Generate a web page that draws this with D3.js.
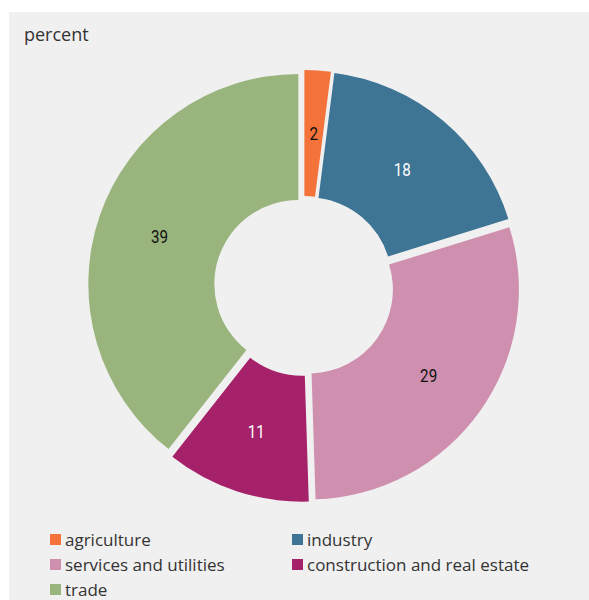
<!DOCTYPE html>
<html>
<head>
<meta charset="utf-8">
<script src="https://cdn.jsdelivr.net/npm/d3@7"></script>
<style>
  html, body { margin: 0; padding: 0; background: #ffffff; }
  svg { display: block; }
</style>
</head>
<body>
<svg id="chart" width="589" height="600"></svg>
<script>
// Sector shares, percent
const categories = ["agriculture", "industry", "services and utilities", "construction and real estate", "trade"];
const values = [2, 18, 29, 11, 39];
const colors = ["#f4733a", "#3e7494", "#cf8faf", "#a5216a", "#99b47d"];
const labelColors = ["#111111", "#ffffff", "#111111", "#ffffff", "#111111"];
const unitLabel = "percent";

const W = 589, H = 600;
const cx = 304, cy = 286;
const outerR = 210, innerR = 84;
const explode = 6;

const svg = d3.select("#chart");

// panel background
svg.append("rect")
  .attr("x", 9).attr("y", 12)
  .attr("width", W - 9).attr("height", H - 12)
  .attr("fill", "#f0f0f0");

svg.append("text")
  .attr("x", 24).attr("y", 41)
  .attr("font-family", "'Open Sans', sans-serif")
  .attr("font-size", 18)
  .attr("fill", "#333333")
  .text(unitLabel);

const data = categories.map((c, i) => ({ name: c, value: values[i], color: colors[i], labelColor: labelColors[i] }));

const pie = d3.pie().value(d => d.value).sort(null);
const arc = d3.arc().innerRadius(innerR).outerRadius(outerR);
const arcs = pie(data);

const g = svg.append("g").attr("transform", `translate(${cx},${cy})`);

// each slice pulled slightly outward along its mid-angle
const offset = d => {
  const a = (d.startAngle + d.endAngle) / 2;
  return [Math.sin(a) * explode, -Math.cos(a) * explode];
};

const slice = g.selectAll("g.slice")
  .data(arcs)
  .join("g")
  .attr("class", "slice")
  .attr("transform", d => `translate(${offset(d)})`);

slice.append("path")
  .attr("d", arc)
  .attr("fill", d => d.data.color);

// value labels in a narrow face
slice.append("text")
  .attr("transform", d => `translate(${arc.centroid(d)}) scale(0.8,1)`)
  .attr("text-anchor", "middle")
  .attr("dy", "0.36em")
  .attr("font-family", "Roboto, sans-serif")
  .attr("font-size", 19)
  .attr("fill", d => d.data.labelColor)
  .text(d => d3.format("d")(d.data.value));

// legend, two columns
const legend = svg.append("g");
const item = legend.selectAll("g")
  .data(data)
  .join("g")
  .attr("transform", (d, i) => `translate(${i % 2 === 0 ? 50 : 292},${534 + Math.floor(i / 2) * 25})`);

item.append("rect")
  .attr("width", 11).attr("height", 11)
  .attr("fill", d => d.color);

item.append("text")
  .attr("x", 15).attr("y", 12)
  .attr("font-family", "'Open Sans', sans-serif")
  .attr("font-size", 17)
  .attr("fill", "#333333")
  .text(d => d.name);
</script>
</body>
</html>
